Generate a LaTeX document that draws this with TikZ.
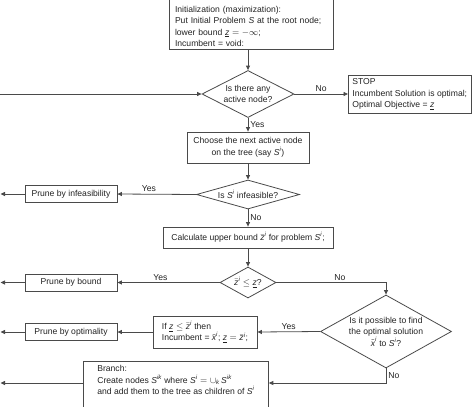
\documentclass[tikz,border=0pt]{standalone}
\usepackage{fontspec}
\setmainfont{Liberation Sans}
\usepackage{amsmath}
\usetikzlibrary{shapes.geometric,arrows.meta,calc}
\newcommand\iv[1]{\text{\itshape #1}}
\definecolor{ln}{HTML}{4A4A4A}
\definecolor{tx}{HTML}{222222}
\begin{document}
\begin{tikzpicture}[x=1pt,y=-1pt,
  font=\fontsize{8.6}{11.5}\selectfont, text=tx,
  box/.style={draw=ln, line width=0.8pt, rectangle, inner xsep=4pt, inner ysep=3pt},
  dia/.style={draw=ln, line width=0.8pt, diamond, inner sep=0pt, align=center},
  arr/.style={draw=ln, line width=0.8pt, -{Triangle[length=4.5pt,width=4pt]}},
  lab/.style={font=\fontsize{8.6}{10}\selectfont, inner sep=2pt}]
\useasboundingbox (0,0) rectangle (474,407);
\clip (0,0) rectangle (474,407);

% nodes
\node[box, anchor=south, align=left, text width=152pt, inner xsep=6pt] (init) at (251,50)
  {\rule{0pt}{16pt}Initialization (maximization):\\ Put Initial Problem \iv{S} at the root node;\\ lower bound $\underline{\iv{z}} = -\infty$;\\ Incumbent = void:};
\node[dia, minimum width=92pt, minimum height=47pt, aspect=2] (d1) at (248,94)
  {Is there any\\ active node?};
\node[box, anchor=north west, align=left, minimum width=122pt, minimum height=38pt] (stop) at (348,75)
  {STOP\\ Incumbent Solution is optimal;\\ Optimal Objective = $\underline{\iv{z}}$};
\node[box, align=center, minimum width=122pt, minimum height=31pt] (choose) at (248,147.5)
  {Choose the next active node\\ on the tree (say $\iv{S}^{\iv{i}}$)};
\node[dia, minimum width=103pt, minimum height=29pt, aspect=3.5] (d2) at (248,194.5)
  {Is $\iv{S}^{\iv{i}}$ infeasible?};
\node[box, minimum width=92pt, minimum height=17pt] (pinf) at (71,194)
  {Prune by infeasibility};
\node[box, minimum width=170pt, minimum height=21pt] (calc) at (248,237.5)
  {Calculate upper bound $\bar{\iv{z}}^{\iv{i}}$ for problem $\iv{S}^{\iv{i}}$;};
\node[dia, minimum width=56pt, minimum height=31pt, aspect=1.8] (d3) at (248,282.5)
  {$\bar{\iv{z}}^{\iv{i}} \leq \underline{\iv{z}}$?};
\node[box, minimum width=92pt, minimum height=17pt] (pbound) at (71,282.5)
  {Prune by bound};
\node[dia, minimum width=131pt, minimum height=73pt, aspect=1.8] (d4) at (386,331.5)
  {Is it possible to find\\ the optimal solution\\ $\tilde{\iv{x}}^{\iv{i}}$ to $\iv{S}^{\iv{i}}$?};
\node[box, align=left, minimum width=104pt, minimum height=32pt, inner xsep=8pt] (ifb) at (205,332)
  {If $\underline{\iv{z}} \leq \bar{\iv{z}}^{\iv{i}}$ then\\ Incumbent = $\tilde{\iv{x}}^{\iv{i}}$; $\underline{\iv{z}} = \bar{\iv{z}}^{\iv{i}}$;};
\node[box, minimum width=92pt, minimum height=17pt] (popt) at (71,332)
  {Prune by optimality};
\node[box, anchor=north west, align=left, minimum width=185pt, inner xsep=10pt, inner ysep=4pt] (branch) at (83,361)
  {Branch:\\ Create nodes $\iv{S}^{\iv{ik}}$ where $\iv{S}^{\iv{i}} = \cup_{\iv{k}}\, \iv{S}^{\iv{ik}}$\\ and add them to the tree as children of $\iv{S}^{\iv{i}}$\\ \mbox{}\\ \mbox{}\\ \mbox{}};

% free ends / helper coordinates
\coordinate (loopin) at (0,94);
\coordinate (outinf) at (0.5,194);
\coordinate (outbound) at (0.5,282.5);
\coordinate (outopt) at (0.5,332);
\coordinate (outbr) at (0.5,383);
\coordinate (brin) at ($(branch.north east)+(0,22)$);
\coordinate (brout) at ($(branch.north west)+(0,22)$);

% connectors
\draw[arr] (init.south -| d1.north) -- (d1.north);
\draw[arr] (loopin) -- (d1.west);
\draw[arr] (d1.east) -- node[lab, above] {No} (stop.west |- d1.east);
\draw[arr] (d1.south) -- node[lab, right] {Yes} (choose.north);
\draw[arr] (choose.south) -- (d2.north);
\draw[arr] (d2.west) -- node[lab, above, pos=0.6] {Yes} (pinf.east);
\draw[arr] (pinf.west) -- (outinf);
\draw[arr] (d2.south) -- node[lab, right] {No} (calc.north);
\draw[arr] (calc.south) -- (d3.north);
\draw[arr] (d3.west) -- node[lab, above, pos=0.58] {Yes} (pbound.east);
\draw[arr] (pbound.west) -- (outbound);
\draw[arr] (d3.east) -| node[lab, above, pos=0.29] {No} (d4.north);
\draw[arr] (d4.west) -- node[lab, above] {Yes} (ifb.east);
\draw[arr] (ifb.west) -- (popt.east);
\draw[arr] (popt.west) -- (outopt);
\draw[arr] (d4.south) |- node[lab, right, pos=0.25] {No} (brin);
\draw[arr] (brout) -- (outbr);
\end{tikzpicture}
\end{document}
